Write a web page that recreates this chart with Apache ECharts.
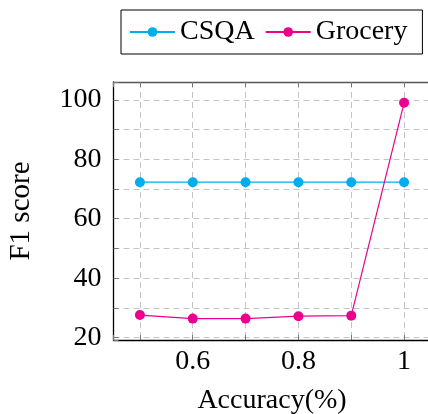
<!DOCTYPE html>
<html>
<head>
<meta charset="utf-8">
<script src="https://cdn.jsdelivr.net/npm/echarts@6/dist/echarts.min.js"></script>
<style>
  html, body { margin: 0; padding: 0; background: #fff; }
  #chart { width: 428px; height: 414px; }
</style>
</head>
<body>
<div id="chart"></div>
<script>
// data
const accuracy = [0.5, 0.6, 0.7, 0.8, 0.9, 1.0];
const csqa = [72.3, 72.3, 72.3, 72.3, 72.3, 72.3];
const grocery = [27.6, 26.4, 26.4, 27.2, 27.4, 99.0];
const yTickLabels = [20, 40, 60, 80, 100];
const xTickLabels = [0.6, 0.8, 1];

const font = "'Liberation Serif', 'Times New Roman', serif";
const gridColor = '#c4c4c4';

function xLabel(v) {
    const r = Math.round(v * 10) / 10;
    return Math.abs(v - r) < 1e-6 && xTickLabels.includes(r) ? String(r) : '';
}
function yLabel(v) {
    const r = Math.round(v);
    return Math.abs(v - r) < 1e-6 && yTickLabels.includes(r) ? String(r) : '';
}

let chart = echarts.init(document.getElementById('chart'));
chart.setOption({
    animation: false,
    textStyle: {fontFamily: font},
    legend: {
        left: 121,
        top: 10,
        padding: [8, 15, 8, 8],
        itemWidth: 45,
        itemHeight: 12,
        itemGap: 10,
        borderColor: '#000',
        borderWidth: 1,
        textStyle: {fontSize: 28, fontFamily: font, color: '#000'},
        data: ['CSQA', 'Grocery']
    },
    grid: {
        left: 113.5,
        top: 82,
        width: 317,
        height: 258,
        outerBoundsMode: 'none'
    },
    xAxis: [{
        type: 'value',
        min: 0.45,
        max: 1.05,
        splitNumber: 6,
        name: 'Accuracy(%)',
        nameLocation: 'middle',
        nameGap: 47,
        nameTextStyle: {fontSize: 28, fontFamily: font, color: '#000'},
        axisLine: {lineStyle: {color: '#000', width: 1.3}},
        axisTick: {inside: true, length: 5, lineStyle: {color: '#777'}},
        axisLabel: {fontSize: 28, fontFamily: font, color: '#000', margin: 8, formatter: xLabel},
        splitLine: {show: true, lineStyle: {color: gridColor, type: [6, 4], width: 1}}
    }, {
        type: 'value',
        position: 'top',
        min: 0.45,
        max: 1.05,
        splitNumber: 6,
        axisLine: {lineStyle: {color: '#555', width: 1.3}},
        axisTick: {inside: true, length: 5, lineStyle: {color: '#777'}},
        axisLabel: {show: false},
        splitLine: {show: false}
    }],
    yAxis: {
        type: 'value',
        min: 19.2,
        max: 106,
        splitNumber: 9,
        name: 'F1 score',
        nameLocation: 'middle',
        nameRotate: 90,
        nameGap: 78,
        nameTextStyle: {fontSize: 29, fontFamily: font, color: '#000'},
        axisLine: {show: true, lineStyle: {color: '#000', width: 1.3}},
        axisTick: {show: true, inside: true, length: 5, lineStyle: {color: '#777'}},
        axisLabel: {fontSize: 28, fontFamily: font, color: '#000', margin: 12, formatter: yLabel},
        splitLine: {show: true, lineStyle: {color: gridColor, type: [6, 4], width: 1}}
    },
    series: [
        {
            name: 'CSQA',
            type: 'line',
            data: accuracy.map((x, i) => [x, csqa[i]]),
            symbol: 'circle',
            symbolSize: 10,
            color: '#00aeef',
            lineStyle: {width: 1.2}
        },
        {
            name: 'Grocery',
            type: 'line',
            data: accuracy.map((x, i) => [x, grocery[i]]),
            symbol: 'circle',
            symbolSize: 10,
            color: '#ec008c',
            lineStyle: {width: 1.2}
        }
    ]
});
</script>
</body>
</html>
